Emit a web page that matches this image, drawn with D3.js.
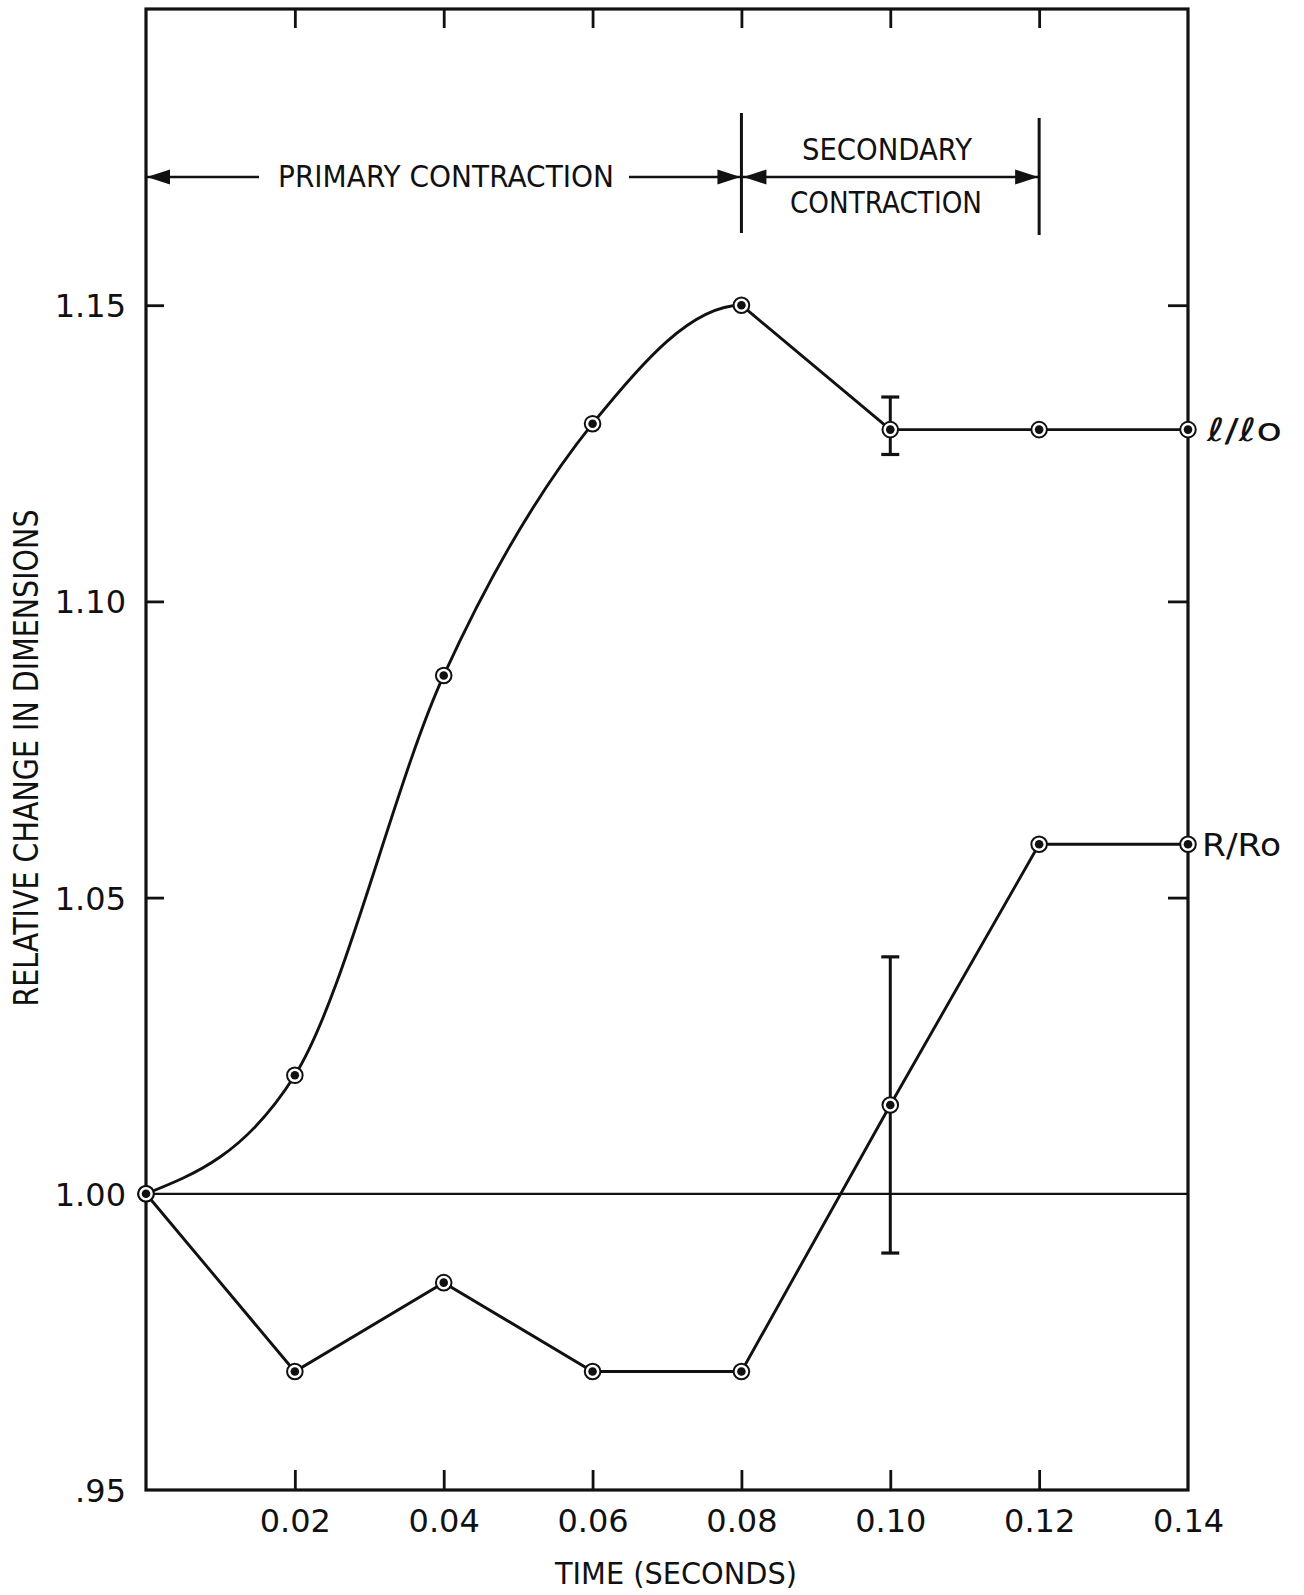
<!DOCTYPE html>
<html>
<head>
<meta charset="utf-8">
<script src="https://cdn.jsdelivr.net/npm/d3@7"></script>
<style>
  html, body { margin: 0; padding: 0; background: #fff; }
  svg { display: block; }
  text { font-family: "DejaVu Sans", "Liberation Sans", sans-serif; fill: #111; }
</style>
</head>
<body>
<svg id="chart" width="1304" height="1595"></svg>
<script>
// ---- data ----
const time = [0, 0.02, 0.04, 0.06, 0.08, 0.10, 0.12, 0.14];
const lengthRatio = [1.00, 1.020, 1.0875, 1.130, 1.150, 1.129, 1.129, 1.129];
const radiusRatio = [1.00, 0.970, 0.985, 0.970, 0.970, 1.015, 1.059, 1.059];
const errTime = [0.10, 0.10];
const errLow = [1.1248, 0.990];
const errHigh = [1.1345, 1.040];
const seriesLabels = ["\u2113/\u2113o", "R/Ro"];
const xTickValues = [0.02, 0.04, 0.06, 0.08, 0.10, 0.12, 0.14];
const xTickLabels = ["0.02", "0.04", "0.06", "0.08", "0.10", "0.12", "0.14"];
const xInnerTicks = [0.02, 0.04, 0.06, 0.08, 0.10, 0.12];
const yTickValues = [0.95, 1.00, 1.05, 1.10, 1.15];
const yTickLabels = [".95", "1.00", "1.05", "1.10", "1.15"];
const yInnerTicks = [1.05, 1.10, 1.15];
const phaseBounds = [0, 0.08, 0.12];
const phaseLabels = ["PRIMARY CONTRACTION", "SECONDARY", "CONTRACTION"];
const xTitle = "TIME (SECONDS)";
const yTitle = "RELATIVE CHANGE IN DIMENSIONS";

// ---- layout ----
const L = 146, R = 1188, T = 9, B = 1490;
const svg = d3.select("#chart");
const x = d3.scaleLinear().domain([0, 0.14]).range([L, R]);
const y = d3.scaleLinear().domain([0.95, 1.20]).range([B, T]);
const ink = "#111";
const lw = 2.9;

// frame
svg.append("rect").attr("x", L).attr("y", T).attr("width", R - L).attr("height", B - T)
  .attr("fill", "none").attr("stroke", ink).attr("stroke-width", 3.2);

function styleAxis(g) {
  g.select(".domain").remove();
  g.selectAll(".tick line").attr("stroke", ink).attr("stroke-width", 2.8);
  g.selectAll(".tick text").attr("fill", ink).style("font-family", "'DejaVu Sans', sans-serif").style("font-size", "32px");
}

// bottom axis (ticks point up, labels below)
const bottomAxis = d3.axisBottom(x).tickValues(xTickValues).tickSizeInner(-20).tickSizeOuter(0)
  .tickPadding(19).tickFormat((d, i) => xTickLabels[i]);
svg.append("g").attr("transform", `translate(0,${B})`).call(bottomAxis).call(styleAxis)
  .call(g => g.selectAll(".tick").filter(d => d === 0.14).select("line").remove());

// top axis (ticks point down)
svg.append("g").attr("transform", `translate(0,${T})`)
  .call(d3.axisTop(x).tickValues(xInnerTicks).tickSizeInner(-19).tickSizeOuter(0).tickFormat(""))
  .call(styleAxis);

// left axis
const leftAxis = d3.axisLeft(y).tickValues(yTickValues).tickSizeInner(-18).tickSizeOuter(0)
  .tickPadding(20).tickFormat((d, i) => yTickLabels[i]);
svg.append("g").attr("transform", `translate(${L},0)`).call(leftAxis).call(styleAxis)
  .call(g => g.selectAll(".tick").filter(d => d === 0.95 || d === 1.00).select("line").remove())
  .call(g => g.selectAll(".tick text").attr("dy", "0.36em"));

// right axis
svg.append("g").attr("transform", `translate(${R},0)`)
  .call(d3.axisRight(y).tickValues(yInnerTicks).tickSizeInner(-20).tickSizeOuter(0).tickFormat(""))
  .call(styleAxis);

// baseline at 1.00
svg.append("line").attr("x1", x(0)).attr("x2", R).attr("y1", y(1.00)).attr("y2", y(1.00))
  .attr("stroke", ink).attr("stroke-width", 2.2);

// axis titles
svg.append("text").attr("x", 676).attr("y", 1584).attr("text-anchor", "middle")
  .style("font-size", "31px").attr("textLength", 242).attr("lengthAdjust", "spacingAndGlyphs").text(xTitle);
svg.append("text").attr("transform", "translate(38,758) rotate(-90)").attr("text-anchor", "middle")
  .style("font-size", "33px").attr("textLength", 497).attr("lengthAdjust", "spacingAndGlyphs").text(yTitle);

// ---- series ----
const lenPts = time.map((t, i) => [t, lengthRatio[i]]);
const radPts = time.map((t, i) => [t, radiusRatio[i]]);
const idxPeak = time.indexOf(0.08);
const idx10 = time.indexOf(0.10);

const smooth = d3.line().x(d => x(d[0])).y(d => y(d[1])).curve(d3.curveMonotoneX);
const straight = d3.line().x(d => x(d[0])).y(d => y(d[1]));

// smooth rise (tangent at peak set by neighbours), kept only up to the peak
const defs = svg.append("defs");
defs.append("clipPath").attr("id", "riseClip").append("rect")
  .attr("x", 0).attr("y", 0).attr("width", x(time[idxPeak]) + 0.5).attr("height", 1595);
svg.append("path").attr("d", smooth(lenPts.slice(0, idx10 + 1))).attr("clip-path", "url(#riseClip)")
  .attr("fill", "none").attr("stroke", ink).attr("stroke-width", lw);
// straight decline and plateau
svg.append("path").attr("d", straight(lenPts.slice(idxPeak)))
  .attr("fill", "none").attr("stroke", ink).attr("stroke-width", lw).attr("stroke-linejoin", "round");
svg.append("path").attr("d", straight(radPts))
  .attr("fill", "none").attr("stroke", ink).attr("stroke-width", lw);

// error bars
errTime.forEach((t, i) => {
  const g = svg.append("g").attr("stroke", ink).attr("stroke-width", 3);
  g.append("line").attr("x1", x(t)).attr("x2", x(t)).attr("y1", y(errLow[i])).attr("y2", y(errHigh[i]));
  [errLow[i], errHigh[i]].forEach(v => {
    g.append("line").attr("x1", x(t) - 9).attr("x2", x(t) + 9).attr("y1", y(v)).attr("y2", y(v)).attr("stroke-width", 3.2);
  });
});

// markers
function markers(pts) {
  const g = svg.append("g");
  g.selectAll("circle.o").data(pts).join("circle").attr("class", "o")
    .attr("cx", d => x(d[0])).attr("cy", d => y(d[1])).attr("r", 7.8)
    .attr("fill", "#fff").attr("stroke", ink).attr("stroke-width", 2);
  g.selectAll("circle.i").data(pts).join("circle").attr("class", "i")
    .attr("cx", d => x(d[0])).attr("cy", d => y(d[1])).attr("r", 4.3).attr("fill", ink);
}
markers(lenPts);
markers(radPts);

// series labels
svg.append("text").attr("x", 1207).attr("y", y(lengthRatio[7]) + 11).style("font-size", "32px")
  .attr("textLength", 75).attr("lengthAdjust", "spacingAndGlyphs").text(seriesLabels[0]);
svg.append("text").attr("x", 1202).attr("y", y(radiusRatio[7]) + 12).style("font-size", "32px")
  .attr("textLength", 79).attr("lengthAdjust", "spacingAndGlyphs").text(seriesLabels[1]);

// ---- phase annotations ----
const ay = 177;
function arrowHead(tipX, dir) {
  const len = 23, hw = 7.5;
  svg.append("path")
    .attr("d", `M${tipX},${ay} L${tipX - dir * len},${ay - hw} L${tipX - dir * len},${ay + hw} Z`)
    .attr("fill", ink);
}
const xa = x(phaseBounds[0]), xb = x(phaseBounds[1]), xc = x(phaseBounds[2]);
// divider bars
svg.append("line").attr("x1", xb).attr("x2", xb).attr("y1", 113).attr("y2", 233).attr("stroke", ink).attr("stroke-width", 3);
svg.append("line").attr("x1", xc).attr("x2", xc).attr("y1", 118).attr("y2", 235).attr("stroke", ink).attr("stroke-width", 3);
// primary arrow
svg.append("line").attr("x1", xa).attr("x2", 259).attr("y1", ay).attr("y2", ay).attr("stroke", ink).attr("stroke-width", 2.6);
svg.append("line").attr("x1", 629).attr("x2", xb).attr("y1", ay).attr("y2", ay).attr("stroke", ink).attr("stroke-width", 2.6);
arrowHead(xa + 1, -1);
arrowHead(xb - 1, 1);
svg.append("text").attr("x", 278).attr("y", 187).style("font-size", "30px")
  .attr("textLength", 336).attr("lengthAdjust", "spacingAndGlyphs").text(phaseLabels[0]);
// secondary arrow
svg.append("line").attr("x1", xb).attr("x2", xc).attr("y1", ay).attr("y2", ay).attr("stroke", ink).attr("stroke-width", 2.6);
arrowHead(xb + 2, -1);
arrowHead(xc - 1, 1);
svg.append("text").attr("x", 887).attr("y", 160).attr("text-anchor", "middle").style("font-size", "31px")
  .attr("textLength", 170).attr("lengthAdjust", "spacingAndGlyphs").text(phaseLabels[1]);
svg.append("text").attr("x", 886).attr("y", 213).attr("text-anchor", "middle").style("font-size", "31px")
  .attr("textLength", 192).attr("lengthAdjust", "spacingAndGlyphs").text(phaseLabels[2]);
</script>
</body>
</html>
